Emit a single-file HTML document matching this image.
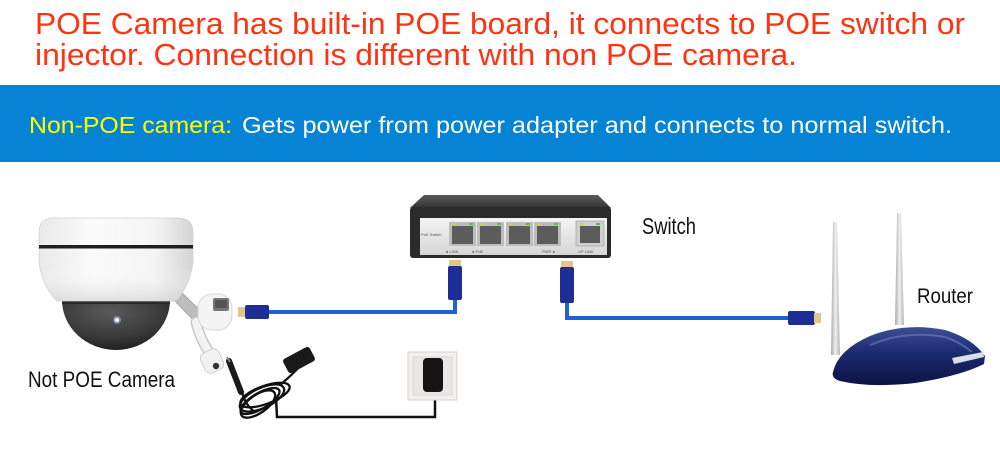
<!DOCTYPE html>
<html><head><meta charset="utf-8"><style>
html,body{margin:0;padding:0;background:#fff;}
svg{display:block;}
text{font-family:"Liberation Sans",Arial,sans-serif;}
</style></head><body>
<svg width="1000" height="450" viewBox="0 0 1000 450" xmlns="http://www.w3.org/2000/svg">
<defs>
<linearGradient id="house" x1="0" y1="0" x2="1" y2="0">
<stop offset="0" stop-color="#e9e9e9"/><stop offset="0.35" stop-color="#fbfbfb"/><stop offset="0.75" stop-color="#f4f4f4"/><stop offset="1" stop-color="#d4d4d4"/></linearGradient>
<linearGradient id="houseV" x1="0" y1="0" x2="0" y2="1">
<stop offset="0" stop-color="#fff" stop-opacity="0"/><stop offset="0.6" stop-color="#fff" stop-opacity="0"/><stop offset="1" stop-color="#cfcfcf" stop-opacity="0.6"/></linearGradient>
<radialGradient id="dome" cx="0.45" cy="0.25" r="0.8">
<stop offset="0" stop-color="#5a5a5a"/><stop offset="0.6" stop-color="#3a3a3a"/><stop offset="1" stop-color="#1c1c1c"/></radialGradient>
<linearGradient id="swTop" x1="0" y1="0" x2="0" y2="1">
<stop offset="0" stop-color="#5a5a5a"/><stop offset="1" stop-color="#333"/></linearGradient>
<linearGradient id="panel" x1="0" y1="0" x2="0" y2="1">
<stop offset="0" stop-color="#f4f4f4"/><stop offset="1" stop-color="#d6d6d6"/></linearGradient>
<linearGradient id="ant" x1="0" y1="0" x2="1" y2="0">
<stop offset="0" stop-color="#a9a9a9"/><stop offset="0.5" stop-color="#efefef"/><stop offset="1" stop-color="#b5b5b5"/></linearGradient>
<linearGradient id="router" x1="0" y1="0" x2="0" y2="1">
<stop offset="0" stop-color="#3d4f94"/><stop offset="0.45" stop-color="#1b2a6e"/><stop offset="1" stop-color="#0c1445"/></linearGradient>
</defs>

<!-- Title -->
<text x="35" y="34" font-size="30.5" fill="#ff3311" textLength="930" lengthAdjust="spacingAndGlyphs">POE Camera has built-in POE board, it connects to POE switch or</text>
<text x="35" y="65" font-size="30.5" fill="#ff3311" textLength="762" lengthAdjust="spacingAndGlyphs">injector. Connection is different with non POE camera.</text>

<!-- Blue band -->
<rect x="0" y="85" width="1000" height="77" fill="#0683d4"/>
<text x="29" y="133" font-size="23.5" fill="#ffff00" textLength="203" lengthAdjust="spacingAndGlyphs">Non-POE camera:</text>
<text x="242" y="133" font-size="23.5" fill="#ffffff" textLength="710" lengthAdjust="spacingAndGlyphs">Gets power from power adapter and connects to normal switch.</text>

<!-- Camera -->
<polygon points="170,296 179,290 207,317 199,326" fill="#bdbdbd" stroke="#9a9a9a" stroke-width="0.8"/>
<path d="M62,300 A54,50 0 0 0 170,300 Z" fill="url(#dome)"/>
<rect x="62" y="299" width="108" height="5" fill="#2a2a2a"/>
<circle cx="117" cy="320" r="4" fill="#9fc4ff" opacity="0.5"/>
<circle cx="117" cy="320" r="2.2" fill="#f4f9ff"/>
<path d="M39,232 Q39,218 55,218 L177,218 Q193,218 193,232 L193,262 Q190,286 176,301 L57,301 Q42,286 39,262 Z" fill="url(#house)" stroke="#d2d2d2" stroke-width="0.8"/>
<path d="M39,232 Q39,218 55,218 L177,218 Q193,218 193,232 L193,262 Q190,286 176,301 L57,301 Q42,286 39,262 Z" fill="url(#houseV)"/>
<rect x="39" y="245" width="154" height="3.5" fill="#1e1e1e"/>

<!-- camera pigtail -->
<path d="M196,322 Q200,340 212,356" stroke="#c9c9c9" stroke-width="11" fill="none" stroke-linecap="round"/>
<path d="M196,322 Q200,340 212,356" stroke="#f2f2f2" stroke-width="8" fill="none" stroke-linecap="round"/>
<rect x="202" y="350" width="20" height="22" rx="6" fill="#f1f1f1" stroke="#c8c8c8" stroke-width="0.8" transform="rotate(-25 212 361)"/>
<circle cx="216" cy="366" r="3.2" fill="#333"/>
<rect x="198" y="294" width="34" height="36" rx="14" fill="#f4f4f4" stroke="#cfcfcf" stroke-width="0.8"/>
<rect x="213" y="298" width="16" height="13" rx="2" fill="#777"/>
<rect x="215" y="300" width="12" height="8" fill="#555"/>

<!-- power adapter cable -->
<line x1="229" y1="361" x2="241" y2="392" stroke="#1a1a1a" stroke-width="6" stroke-linecap="round"/>
<line x1="227" y1="357" x2="230" y2="362" stroke="#888" stroke-width="2"/>
<g fill="none" stroke="#111" stroke-width="2.3">
<ellipse cx="262" cy="398" rx="24" ry="10" transform="rotate(-25 262 398)"/>
<ellipse cx="260" cy="401" rx="22" ry="8" transform="rotate(-30 260 401)"/>
<ellipse cx="265" cy="395" rx="26" ry="9" transform="rotate(-20 265 395)"/>
<ellipse cx="258" cy="404" rx="20" ry="9" transform="rotate(-35 258 404)"/>
<path d="M280,385 Q292,375 300,366"/>
<path d="M242,392 Q245,405 255,412"/>
</g>
<rect x="284" y="352" width="30" height="16" rx="3" fill="#1a1a1a" transform="rotate(-28 299 360)"/>
<polyline points="276,398 277,417 435,417 435,392" fill="none" stroke="#111" stroke-width="2.5"/>

<!-- wall outlet -->
<rect x="408" y="352" width="49" height="48" fill="#f3f0f0" stroke="#d6d2d2" stroke-width="1"/>
<rect x="413" y="357" width="39" height="38" fill="#ece7e7" stroke="#dcd6d6" stroke-width="1"/>
<rect x="423" y="358" width="20" height="34" rx="4" fill="#151515"/>

<!-- Switch -->
<polygon points="424,195 598,195 611,208 410,208" fill="url(#swTop)"/>
<rect x="410" y="207" width="201" height="51" rx="3" fill="#2b2b2b"/>
<rect x="420" y="218" width="187" height="37" fill="url(#panel)"/>
<g>
<rect x="449" y="222" width="27" height="24" fill="#bdbdbd"/><rect x="452" y="226" width="21" height="18" fill="#5c5c5c"/>
<rect x="477" y="222" width="27" height="24" fill="#bdbdbd"/><rect x="480" y="226" width="21" height="18" fill="#5c5c5c"/>
<rect x="506" y="222" width="27" height="24" fill="#bdbdbd"/><rect x="509" y="226" width="21" height="18" fill="#5c5c5c"/>
<rect x="534" y="222" width="27" height="24" fill="#bdbdbd"/><rect x="537" y="226" width="21" height="18" fill="#5c5c5c"/>
<rect x="576" y="221" width="28" height="25" fill="#cfcfcf" stroke="#999" stroke-width="0.6"/><rect x="580" y="226" width="20" height="17" fill="#5c5c5c"/>
<g fill="#d8d23a"><rect x="452" y="223" width="4" height="2"/><rect x="480" y="223" width="4" height="2"/><rect x="509" y="223" width="4" height="2"/><rect x="537" y="223" width="4" height="2"/><rect x="580" y="223" width="4" height="2"/></g>
<g fill="#56c24a"><rect x="469" y="223" width="4" height="2"/><rect x="497" y="223" width="4" height="2"/><rect x="526" y="223" width="4" height="2"/><rect x="554" y="223" width="4" height="2"/><rect x="596" y="223" width="4" height="2"/></g>
</g>
<text x="421" y="236" font-size="4" fill="#555">PoE Switch</text>
<text x="446" y="253" font-size="4" fill="#555">● LINK</text>
<text x="472" y="253" font-size="4" fill="#555">● PoE</text>
<text x="542" y="253" font-size="4" fill="#555">PWR ●</text>
<text x="578" y="253" font-size="4" fill="#555">UP LINK</text>

<!-- Ethernet cables -->
<g stroke="#1f62d6" stroke-width="4" fill="none">
<polyline points="268,312 455,312 455,299"/>
<polyline points="567,302 567,318 789,318"/>
</g>
<!-- plugs left cable -->
<rect x="238" y="307" width="7" height="10" fill="#e3c58e"/>
<rect x="245" y="305" width="24" height="14" rx="2" fill="#1d2f95"/>
<rect x="449" y="260" width="12" height="6" fill="#e3c58e"/>
<rect x="448" y="266" width="14" height="34" rx="2" fill="#1d2f95"/>
<!-- plugs right cable -->
<rect x="561" y="261" width="12" height="6" fill="#e3c58e"/>
<rect x="560" y="267" width="14" height="36" rx="2" fill="#1d2f95"/>
<rect x="788" y="311" width="27" height="14" rx="2" fill="#1d2f95"/>
<rect x="814" y="313" width="7" height="10" fill="#e3c58e"/>

<!-- Router -->
<path d="M833,222 L837,222 L840,355 L831,355 Z" fill="url(#ant)"/>
<path d="M897,213 L901,213 L904,325 L895,325 Z" fill="url(#ant)"/>
<path d="M833,372 Q838,350 870,336 Q905,322 945,330 Q972,338 985,356 L984,364 Q960,376 915,383 Q870,388 840,381 Q831,378 833,372 Z" fill="url(#router)"/>
<path d="M870,345 Q905,330 945,337 Q960,342 972,352" stroke="#6d7fc0" stroke-width="2" fill="none" opacity="0.6"/>
<path d="M952,358 L983,352 L984,357 L954,364 Z" fill="#d9dde8"/>

<!-- Labels -->
<text x="642" y="234" font-size="23" fill="#111" textLength="54" lengthAdjust="spacingAndGlyphs">Switch</text>
<text x="917" y="303" font-size="21" fill="#111" textLength="56" lengthAdjust="spacingAndGlyphs">Router</text>
<text x="28" y="387" font-size="22" fill="#111" textLength="147" lengthAdjust="spacingAndGlyphs">Not POE Camera</text>
</svg>
</body></html>
